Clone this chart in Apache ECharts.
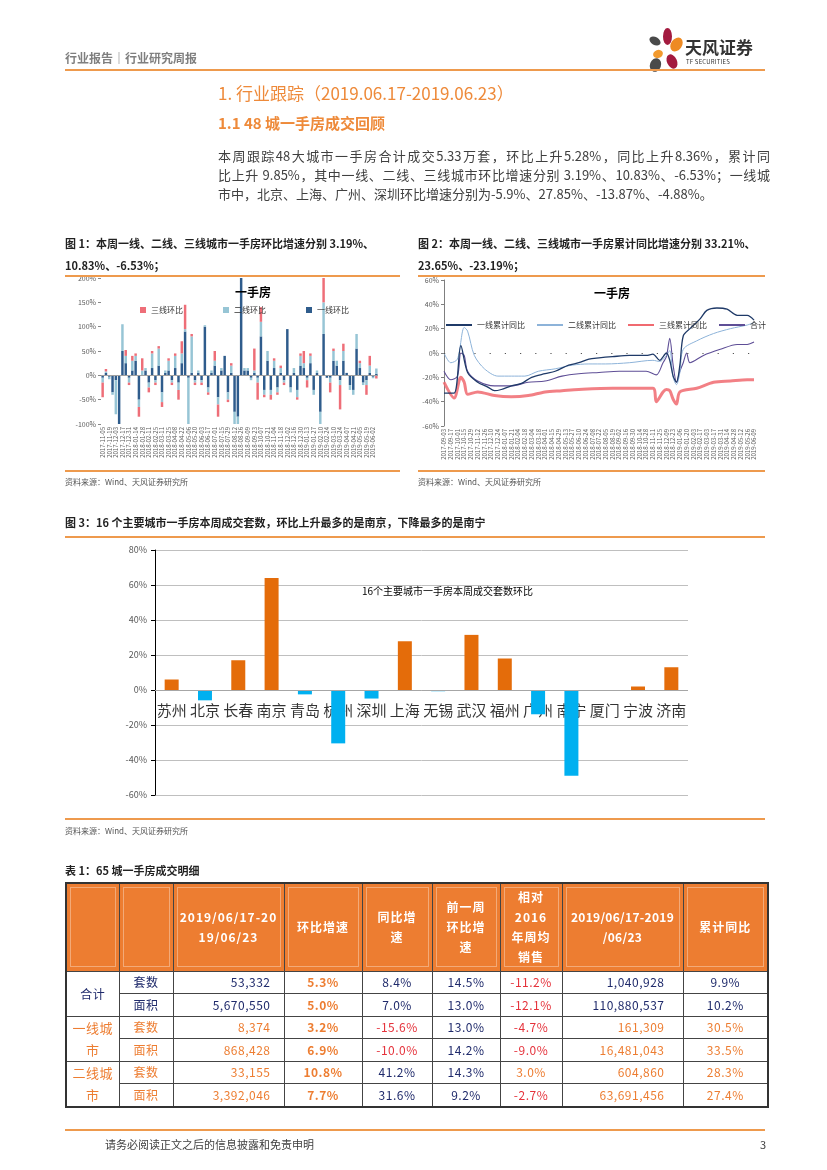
<!DOCTYPE html>
<html><head><meta charset="utf-8">
<script src="https://cdn.jsdelivr.net/npm/echarts@6/dist/echarts.min.js"></script>
<style>
*{margin:0;padding:0;box-sizing:border-box}
body{width:827px;height:1170px;background:#fff;font-family:"Noto Sans CJK SC","Noto Sans",sans-serif;position:relative;overflow:hidden}
#chart{position:absolute;left:0;top:0;width:827px;height:1170px;z-index:0}
.a{position:absolute;z-index:2;white-space:nowrap}
.hl{position:absolute;z-index:2;background:#EE9A4D}
.cap{font-size:11px;font-weight:bold;color:#222}
.src{font-size:8px;color:#555}
.body{font-size:13px;color:#404040;width:552px;line-height:19px}
.body div{text-align:justify;text-align-last:justify}
.body div.last{text-align-last:left}
table{position:absolute;left:65px;top:882px;width:702px;border-collapse:collapse;z-index:2;table-layout:fixed;border:2px solid #333}
td{border:1px solid #444;font-size:12px;height:22.5px;padding:0;text-align:center;letter-spacing:0.5px;line-height:20px}
th{background:#ED7D31;color:#fff;font-size:12px;font-weight:bold;height:88px;border:1px solid #444;line-height:20px;letter-spacing:1px;padding:3px}
th div{border:1px solid rgba(255,255,255,0.35);height:80px;display:flex;align-items:center;justify-content:center}
.n{color:#1F2A6B}.o{color:#ED7D31}.r{color:#E5323B}.b{font-weight:bold}
.rt{text-align:right;padding-right:13px}.rt8{text-align:right;padding-right:18px}
.pet{position:absolute;z-index:2;border-radius:50%}
</style></head><body>
<div id="chart"></div>

<!-- header -->
<div class="a" style="left:65px;top:49px;font-size:12px;font-weight:bold;color:#7F7F7F">行业报告｜行业研究周报</div>
<div class="pet" style="left:663px;top:28px;width:9px;height:17px;background:#A31A3F"></div>
<div class="pet" style="left:671px;top:37px;width:11px;height:15px;background:#EE8A23;transform:rotate(35deg)"></div>
<div class="pet" style="left:649px;top:37px;width:12px;height:8px;background:#4A4A4A;transform:rotate(30deg)"></div>
<div class="pet" style="left:653px;top:50px;width:10px;height:8px;background:#F29A2E;transform:rotate(-20deg)"></div>
<div class="pet" style="left:667px;top:54px;width:10px;height:15px;background:#A31A3F;transform:rotate(-25deg)"></div>
<div class="pet" style="left:650px;top:58px;width:11px;height:14px;background:#4A4A4A;transform:rotate(20deg)"></div>
<div class="a" style="left:685px;top:34px;font-size:17px;font-weight:bold;color:#333;letter-spacing:0px">天风证券</div>
<div class="a" style="left:686px;top:57px;font-size:6px;color:#333;letter-spacing:0.2px">TF SECURITIES</div>
<div class="hl" style="left:65px;top:69px;width:700px;height:2px"></div>

<div class="a" style="left:218px;top:80px;font-size:17px;color:#EE8A3A">1. 行业跟踪（2019.06.17-2019.06.23）</div>
<div class="a" style="left:218px;top:112px;font-size:15px;color:#EE8A3A;font-weight:bold">1.1 48 城一手房成交回顾</div>
<div class="a body" style="left:218px;top:146px;white-space:normal">
<div>本周跟踪48大城市一手房合计成交5.33万套，环比上升5.28%，同比上升8.36%，累计同</div>
<div>比上升 9.85%，其中一线、二线、三线城市环比增速分别 3.19%、10.83%、-6.53%；一线城</div>
<div class="last">市中，北京、上海、广州、深圳环比增速分别为-5.9%、27.85%、-13.87%、-4.88%。</div>
</div>

<!-- figure captions -->
<div class="a cap" style="left:65px;top:235px">图 1：本周一线、二线、三线城市一手房环比增速分别 3.19%、</div>
<div class="a cap" style="left:65px;top:257px">10.83%、-6.53%；</div>
<div class="hl" style="left:65px;top:275px;width:335px;height:1.5px"></div>
<div class="a cap" style="left:418px;top:235px">图 2：本周一线、二线、三线城市一手房累计同比增速分别 33.21%、</div>
<div class="a cap" style="left:418px;top:257px">23.65%、-23.19%；</div>
<div class="hl" style="left:418px;top:275px;width:347px;height:1.5px"></div>
<div class="hl" style="left:65px;top:470px;width:335px;height:1.5px"></div>
<div class="hl" style="left:418px;top:470px;width:347px;height:1.5px"></div>
<div class="a src" style="left:65px;top:476px">资料来源：Wind、天风证券研究所</div>
<div class="a src" style="left:418px;top:476px">资料来源：Wind、天风证券研究所</div>

<div class="a cap" style="left:65px;top:514px">图 3：16 个主要城市一手房本周成交套数，环比上升最多的是南京，下降最多的是南宁</div>
<div class="hl" style="left:65px;top:536px;width:700px;height:1.5px"></div>
<div class="hl" style="left:65px;top:818px;width:700px;height:1.5px"></div>
<div class="a src" style="left:65px;top:825px">资料来源：Wind、天风证券研究所</div>

<div class="a cap" style="left:65px;top:862px">表 1：65 城一手房成交明细</div>
<table>
<colgroup><col style="width:53px"><col style="width:54px"><col style="width:111px"><col style="width:78px"><col style="width:70px"><col style="width:68px"><col style="width:62px"><col style="width:121px"><col style="width:85px"></colgroup>
<tr><th><div></div></th><th><div></div></th><th><div>2019/06/17-20<br>19/06/23</div></th><th><div>环比增速</div></th><th><div>同比增<br>速</div></th><th><div>前一周<br>环比增<br>速</div></th><th><div>相对<br>2016<br>年周均<br>销售</div></th><th style="letter-spacing:0.3px"><div>2019/06/17-2019<br>/06/23</div></th><th><div>累计同比</div></th></tr>
<tr><td rowspan="2" class="n">合计</td><td class="n">套数</td><td class="n rt">53,332</td><td class="o b">5.3%</td><td class="n">8.4%</td><td class="n">14.5%</td><td class="r">-11.2%</td><td class="n rt8">1,040,928</td><td class="n">9.9%</td></tr>
<tr><td class="n">面积</td><td class="n rt">5,670,550</td><td class="o b">5.0%</td><td class="n">7.0%</td><td class="n">13.0%</td><td class="r">-12.1%</td><td class="n rt8">110,880,537</td><td class="n">10.2%</td></tr>
<tr><td rowspan="2" class="o" style="font-size:13px;line-height:22px">一线城市</td><td class="o">套数</td><td class="o rt">8,374</td><td class="o b">3.2%</td><td class="r">-15.6%</td><td class="n">13.0%</td><td class="r">-4.7%</td><td class="o rt8">161,309</td><td class="o">30.5%</td></tr>
<tr><td class="o">面积</td><td class="o rt">868,428</td><td class="o b">6.9%</td><td class="r">-10.0%</td><td class="n">14.2%</td><td class="r">-9.0%</td><td class="o rt8">16,481,043</td><td class="o">33.5%</td></tr>
<tr><td rowspan="2" class="o" style="font-size:13px;line-height:22px">二线城市</td><td class="o">套数</td><td class="o rt">33,155</td><td class="o b">10.8%</td><td class="n">41.2%</td><td class="n">14.3%</td><td class="o">3.0%</td><td class="o rt8">604,860</td><td class="o">28.3%</td></tr>
<tr><td class="o">面积</td><td class="o rt">3,392,046</td><td class="o b">7.7%</td><td class="n">31.6%</td><td class="n">9.2%</td><td class="r">-2.7%</td><td class="o rt8">63,691,456</td><td class="o">27.4%</td></tr>
</table>

<div class="hl" style="left:65px;top:1129px;width:700px;height:2px"></div>
<div class="a" style="left:105px;top:1136px;font-size:11px;color:#404040">请务必阅读正文之后的信息披露和免责申明</div>
<div class="a" style="left:760px;top:1136px;font-size:11px;color:#404040">3</div>

<script>
// ---------- Figure 1: weekly 环比 by tier (stacked bars) ----------
function weeks(y, m, d, n) {
  var out = [], t = Date.UTC(y, m - 1, d);
  for (var i = 0; i < n; i++) {
    var dt = new Date(t + i * 7 * 86400000);
    out.push(dt.getUTCFullYear() + '-' + String(dt.getUTCMonth() + 1).padStart(2, '0') + '-' + String(dt.getUTCDate()).padStart(2, '0'));
  }
  return out;
}
var fig1Dates = weeks(2017, 11, 5, 84);
var tier1Hb = [-5,5,-3,-35,-10,-100,50,25,-5,10, 30,-50,0,10,-15,15,-10,20,-35,5, 10,-10,15,-15,25,90,-5,5,-10,5, -10,100,-25,5,20,-45,10,40,-35,5, -75,-85,200,10,10,-5,5,-5,80,-30, 30,-30,15,-25,5,-10,95,-25,5,-30, 20,15,-5,25,-30,5,-75,85,-5,-5, 30,20,-10,30,5,-20,-30,55,15,-15, -10,5,-3,3.19];
var tier2Hb = [-10,3,-5,-5,-70,0,55,15,-10,20, 10,-15,10,5,-10,30,-5,35,-20,5, 20,-5,25,-15,20,5,-95,75,-5,5, -5,3,-10,5,10,-15,5,0,-15,15, -25,-15,0,5,5,-5,5,-10,30,-10, 20,-10,15,-10,10,-5,0,-10,10,-15, 20,10,-5,15,-10,5,-25,65,0,-10, 20,10,-10,20,0,-10,-10,30,10,-5, -10,15,-3,10.83];
var tier3Hb = [-30,5,0,0,0,0,0,12,-5,10, 5,-20,25,0,-10,5,-5,5,-10,0, 5,-5,5,-20,25,50,0,5,-5,0, -5,0,-5,0,20,-25,0,0,-5,5, 0,0,0,0,0,0,45,-35,30,-5, 0,-10,5,-5,5,-5,0,0,0,-5, 5,25,-15,5,0,0,0,50,0,-20, 5,0,-50,15,0,0,0,0,5,0, -20,20,0,-6.53];
var fig1Ticks = [-100, 200, 50];

// ---------- Figure 2: 累计同比 lines ([week index, %]) ----------
var fig2Dates = weeks(2017, 9, 3, 93);
var tier1Cum = [[0,-33],[3,-33],[5,6],[7,-16],[10,-24],[13,-28],[15,-31],[17,-30],[20,-27],[23,-25],[26,-20],[30,-17],[33,-15],[37,-10],[40,-8],[43,-5],[46,-4],[50,-3],[55,-2],[60,-2],[62,-1],[64,-6],[66,0],[67,-6],[68,-19],[69,-24],[70,-10],[71,14],[73,20],[76,28],[78,35],[81,37],[84,36],[87,31],[90,31],[92,27]];
var tier2Cum = [[0,0],[2,-8],[4,-5],[6,21],[7,18],[9,-2],[12,-13],[16,-19],[20,-19],[24,-19],[28,-15],[33,-13],[38,-10],[43,-9],[48,-9],[55,-8],[62,-6],[64,-7],[66,-2],[67,2],[68,-20],[69,-26],[70,-16],[71,3],[75,10],[80,16],[85,20],[90,23],[92,25]];
var tier3Cum = [[0,-24],[3,-37],[5,-20],[6,-24],[7,-34],[10,-32],[15,-35],[20,-36],[25,-35],[30,-32],[35,-31],[40,-30],[50,-29],[62,-29],[63,-40],[65,-32],[66,-30],[67,-31],[68,-38],[69,-42],[70,-32],[75,-29],[80,-24],[85,-23],[90,-22],[92,-22]];
var totalCum = [[0,-15],[2,-22],[4,-19],[5,0],[6,-2],[7,-15],[10,-23],[15,-27],[20,-27],[25,-24],[30,-23],[35,-19],[40,-17],[46,-16],[52,-15],[60,-15],[63,-18],[65,-8],[66,-3],[67,12],[68,-10],[69,-24],[70,-15],[71,-8],[72,0],[73,-8],[77,-2],[82,3],[87,7],[90,7],[92,9]];
var fig2Ticks = [-60, 60, 20];

// ---------- Figure 3: 16 cities 环比 ----------
var cities = ['苏州','北京','长春','南京','青岛','杭州','深圳','上海','无锡','武汉','福州','广州','南宁','厦门','宁波','济南'];
var cityHb = [6, -5.9, 17, 64, -2.5, -30.5, -4.88, 27.85, -0.7, 31.5, 18, -13.87, -49, 0, 2, 13];
var fig3Ticks = [-60, 80, 20];

var FONT = '"Noto Sans CJK SC", sans-serif';
var chart = echarts.init(document.getElementById('chart'), null, {renderer: 'canvas'});
var pct = function (v) { return v + '%'; };
var smallDate = {fontSize: 6, color: '#595959', rotate: 90, interval: 1, fontFamily: FONT, margin: 3};
// city labels anchored at the zero line of figure 3 (one point per category at value 0)
var cityLabelPts = cities.map(function (c) { return [c, 0]; });

chart.setOption({
  animation: false,
  textStyle: {fontFamily: FONT},
  title: [
    {text: '一手房', left: 230, top: 281, textStyle: {fontSize: 12, fontWeight: 'bold', color: '#000'}},
    {text: '一手房', left: 589, top: 282, textStyle: {fontSize: 12, fontWeight: 'bold', color: '#000'}},
    {text: '16个主要城市一手房本周成交套数环比', left: 357, top: 581, textStyle: {fontSize: 10, fontWeight: 'normal', color: '#000'}}
  ],
  legend: [
    {data: ['三线环比', '二线环比', '一线环比'], left: 135, top: 301, itemWidth: 6, itemHeight: 6, itemGap: 40, icon: 'rect',
     textStyle: {fontSize: 8, color: '#333'}},
    {data: ['一线累计同比', '二线累计同比', '三线累计同比', '合计'], left: 441, top: 316, itemWidth: 26, itemHeight: 2, itemGap: 12, icon: 'rect',
     textStyle: {fontSize: 8, color: '#333'}}
  ],
  grid: [
    {left: 101, top: 278, width: 277, height: 146},
    {left: 444, top: 280, width: 310, height: 146},
    {left: 155, top: 550, width: 533, height: 245}
  ],
  xAxis: [
    {gridIndex: 0, type: 'category', data: fig1Dates, position: 'bottom', axisLine: {show: false, onZero: false},
     axisTick: {show: false}, axisLabel: smallDate},
    {gridIndex: 1, type: 'category', data: fig2Dates, boundaryGap: false, axisLine: {show: false, onZero: false},
     axisTick: {show: false}, axisLabel: smallDate},
    {gridIndex: 2, type: 'category', data: cities, axisLine: {show: false, onZero: false},
     axisTick: {show: false}, axisLabel: {show: false}}
  ],
  yAxis: [
    {gridIndex: 0, type: 'value', min: fig1Ticks[0], max: fig1Ticks[1], interval: fig1Ticks[2], axisLine: {show: false},
     axisTick: {show: true, length: 3, lineStyle: {color: '#888'}}, splitLine: {show: false},
     axisLabel: {fontSize: 7, color: '#595959', formatter: pct, margin: 5}},
    {gridIndex: 1, type: 'value', min: fig2Ticks[0], max: fig2Ticks[1], interval: fig2Ticks[2],
     axisLine: {show: true, lineStyle: {color: '#7F7F7F'}}, axisTick: {show: true, length: 3, lineStyle: {color: '#7F7F7F'}},
     splitLine: {show: false}, axisLabel: {fontSize: 7, color: '#595959', formatter: pct, margin: 5}},
    {gridIndex: 2, type: 'value', min: fig3Ticks[0], max: fig3Ticks[1], interval: fig3Ticks[2],
     axisLine: {show: true, lineStyle: {color: '#000'}}, axisTick: {show: true, length: 4, lineStyle: {color: '#000'}},
     splitLine: {lineStyle: {color: '#BFBFBF'}}, axisLabel: {fontSize: 9, color: '#595959', formatter: pct, margin: 8}}
  ],
  series: [
    {name: '一线环比', type: 'bar', xAxisIndex: 0, yAxisIndex: 0, stack: 'hb', data: tier1Hb, barCategoryGap: '25%',
     itemStyle: {color: '#2F5C8C'},
     markLine: {silent: true, symbol: 'none', label: {show: false}, lineStyle: {color: '#A0A0A0', type: 'solid', width: 1}, data: [{yAxis: 0}]}},
    {name: '二线环比', type: 'bar', xAxisIndex: 0, yAxisIndex: 0, stack: 'hb', data: tier2Hb, itemStyle: {color: '#97C5D5'}},
    {name: '三线环比', type: 'bar', xAxisIndex: 0, yAxisIndex: 0, stack: 'hb', data: tier3Hb, itemStyle: {color: '#EE6E78'}},

    {name: '三线累计同比', type: 'line', xAxisIndex: 1, yAxisIndex: 1, data: tier3Cum, symbol: 'none', smooth: 0.3,
     lineStyle: {color: '#F06A70', width: 3, opacity: 0.85}, itemStyle: {color: '#F06A70'},
     markLine: {silent: true, symbol: 'none', label: {show: false}, lineStyle: {color: '#555', type: [1.2, 14], width: 1.2}, data: [{yAxis: 0}]}},
    {name: '合计', type: 'line', xAxisIndex: 1, yAxisIndex: 1, data: totalCum, symbol: 'none', smooth: 0.3,
     lineStyle: {color: '#5E4E96', width: 1.1}, itemStyle: {color: '#5E4E96'}},
    {name: '二线累计同比', type: 'line', xAxisIndex: 1, yAxisIndex: 1, data: tier2Cum, symbol: 'none', smooth: 0.3,
     lineStyle: {color: '#8DB3D9', width: 1}, itemStyle: {color: '#8DB3D9'}},
    {name: '一线累计同比', type: 'line', xAxisIndex: 1, yAxisIndex: 1, data: tier1Cum, symbol: 'none', smooth: 0.3,
     lineStyle: {color: '#1F3A68', width: 1.3}, itemStyle: {color: '#1F3A68'}},

    {name: '城市环比', type: 'bar', xAxisIndex: 2, yAxisIndex: 2, data: cityHb, barWidth: 14, z: 3,
     itemStyle: {color: function (p) { return p.value >= 0 ? '#E46C0A' : '#00B0F0'; }},
     markLine: {silent: true, symbol: 'none', label: {show: false}, lineStyle: {color: '#A6A6A6', type: 'solid', width: 1}, data: [{yAxis: 0}]}},
    {name: '城市标签', type: 'scatter', xAxisIndex: 2, yAxisIndex: 2, data: cityLabelPts, symbolSize: 0, silent: true, z: 2,
     label: {show: true, position: 'bottom', distance: 13, fontSize: 15, color: '#000',
             formatter: function (p) { return p.value[0]; }}}
  ]
});
</script>
</body></html>
